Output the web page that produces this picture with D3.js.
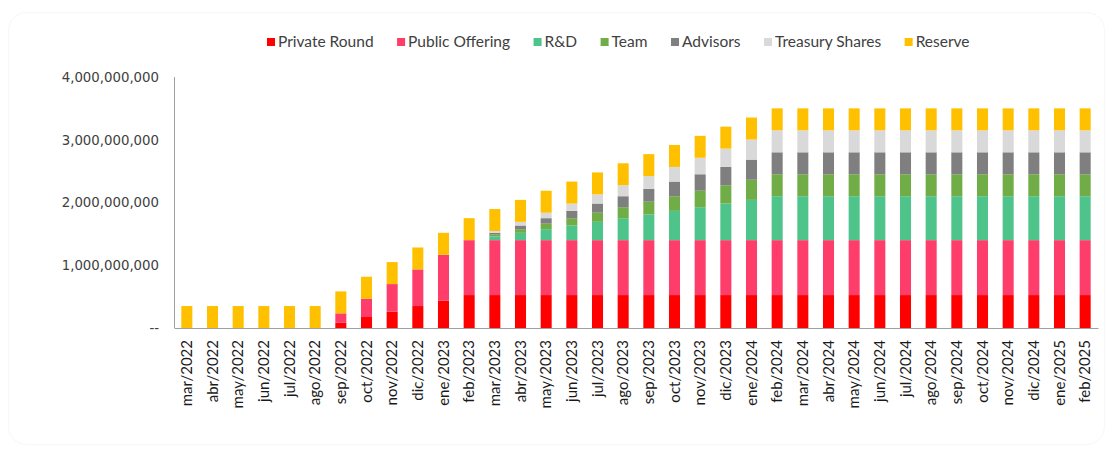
<!DOCTYPE html>
<html>
<head>
<meta charset="utf-8">
<script src="https://cdn.jsdelivr.net/npm/d3@7"></script>
<style>
  html, body { margin: 0; padding: 0; background: #fff; }
  svg { display: block; }
</style>
</head>
<body>
<svg id="chart" width="1113" height="453"></svg>
<script>
// months shown on the x axis
const months = [
  "mar/2022", "abr/2022", "may/2022", "jun/2022", "jul/2022", "ago/2022",
  "sep/2022", "oct/2022", "nov/2022", "dic/2022", "ene/2023", "feb/2023",
  "mar/2023", "abr/2023", "may/2023", "jun/2023", "jul/2023", "ago/2023",
  "sep/2023", "oct/2023", "nov/2023", "dic/2023", "ene/2024", "feb/2024",
  "mar/2024", "abr/2024", "may/2024", "jun/2024", "jul/2024", "ago/2024",
  "sep/2024", "oct/2024", "nov/2024", "dic/2024", "ene/2025", "feb/2025"
];

// token amounts, in millions
const privateRound = [
  0, 0, 0, 0, 0, 0, 87.5, 175, 262.5, 350, 437.5, 525,
  525, 525, 525, 525, 525, 525, 525, 525, 525, 525, 525, 525,
  525, 525, 525, 525, 525, 525, 525, 525, 525, 525, 525, 525
];
const publicOffering = [
  0, 0, 0, 0, 0, 0, 145.8, 291.7, 437.5, 583.3, 729.2, 875,
  875, 875, 875, 875, 875, 875, 875, 875, 875, 875, 875, 875,
  875, 875, 875, 875, 875, 875, 875, 875, 875, 875, 875, 875
];
const rnd = [
  0, 0, 0, 0, 0, 0, 0, 0, 0, 0, 0, 0,
  58.3, 116.7, 175, 233.3, 291.7, 350, 408.3, 466.7, 525, 583.3, 641.7, 700,
  700, 700, 700, 700, 700, 700, 700, 700, 700, 700, 700, 700
];
const team = [
  0, 0, 0, 0, 0, 0, 0, 0, 0, 0, 0, 0,
  29.2, 58.3, 87.5, 116.7, 145.8, 175, 204.2, 233.3, 262.5, 291.7, 320.8, 350,
  350, 350, 350, 350, 350, 350, 350, 350, 350, 350, 350, 350
];
const advisors = [
  0, 0, 0, 0, 0, 0, 0, 0, 0, 0, 0, 0,
  29.2, 58.3, 87.5, 116.7, 145.8, 175, 204.2, 233.3, 262.5, 291.7, 320.8, 350,
  350, 350, 350, 350, 350, 350, 350, 350, 350, 350, 350, 350
];
const treasuryShares = [
  0, 0, 0, 0, 0, 0, 0, 0, 0, 0, 0, 0,
  29.2, 58.3, 87.5, 116.7, 145.8, 175, 204.2, 233.3, 262.5, 291.7, 320.8, 350,
  350, 350, 350, 350, 350, 350, 350, 350, 350, 350, 350, 350
];
const reserve = [
  350, 350, 350, 350, 350, 350, 350, 350, 350, 350, 350, 350,
  350, 350, 350, 350, 350, 350, 350, 350, 350, 350, 350, 350,
  350, 350, 350, 350, 350, 350, 350, 350, 350, 350, 350, 350
];

const seriesNames = ["Private Round", "Public Offering", "R&D", "Team", "Advisors", "Treasury Shares", "Reserve"];
const seriesColors = ["#ff0000", "#ff3d6b", "#4fc48a", "#70ad47", "#7f7f7f", "#d9d9d9", "#ffc000"];
const yTicks = [0, 1000, 2000, 3000, 4000];
const yTickLabels = ["--", "1,000,000,000", "2,000,000,000", "3,000,000,000", "4,000,000,000"];

const seriesValues = [privateRound, publicOffering, rnd, team, advisors, treasuryShares, reserve];
const keys = seriesNames;
const rows = months.map((m, i) => {
  const row = { month: m };
  keys.forEach((k, j) => { row[k] = seriesValues[j][i]; });
  return row;
});

const svg = d3.select("#chart");
const margin = { top: 77, right: 15, bottom: 125, left: 174 };
const width = 1113, height = 453;

// very faint rounded frame
svg.append("rect")
  .attr("x", 8.5).attr("y", 12.5)
  .attr("width", 1096).attr("height", 432)
  .attr("rx", 18)
  .attr("fill", "none")
  .attr("stroke", "#f7f7f7");

const x = d3.scaleBand()
  .domain(months)
  .range([margin.left, width - margin.right])
  .paddingInner(0.57)
  .paddingOuter(0.285);

const y = d3.scaleLinear()
  .domain([0, 4000])
  .range([height - margin.bottom, margin.top]);

const stacked = d3.stack().keys(keys)(rows);

// bars
svg.append("g")
  .selectAll("g")
  .data(stacked)
  .join("g")
  .attr("fill", (d, i) => seriesColors[i])
  .selectAll("rect")
  .data(d => d)
  .join("rect")
  .attr("x", d => x(d.data.month))
  .attr("y", d => y(d[1]))
  .attr("width", x.bandwidth())
  .attr("height", d => y(d[0]) - y(d[1]));

// y axis
const yAxis = svg.append("g")
  .attr("transform", `translate(${margin.left},0)`)
  .call(d3.axisLeft(y)
    .tickValues(yTicks)
    .tickSize(0)
    .tickPadding(15)
    .tickFormat((d, i) => yTickLabels[i]));
yAxis.select(".domain").attr("stroke", "#a0a0a0").attr("d", `M0.5,${y(0)}V${y(4000)}`);
yAxis.selectAll("text")
  .attr("font-family", "DejaVu Sans, sans-serif")
  .attr("font-size", "13.3px")
  .attr("fill", "#404040");

// x axis
const xAxis = svg.append("g")
  .attr("transform", `translate(0,${y(0)})`)
  .call(d3.axisBottom(x).tickSize(0).tickPadding(0));
xAxis.select(".domain").attr("stroke", "#a0a0a0");
xAxis.selectAll("text")
  .attr("font-family", "Lato, sans-serif")
  .attr("font-size", "15px")
  .attr("fill", "#1a1a1a")
  .attr("text-anchor", "end")
  .attr("transform", "translate(0,12) rotate(-90)")
  .attr("x", 0)
  .attr("y", 0)
  .attr("dy", "0.35em");

// legend
const legend = svg.append("g").attr("transform", "translate(267,42)");
let lx = 0;
seriesNames.forEach((name, i) => {
  const item = legend.append("g").attr("transform", `translate(${lx},0)`);
  item.append("rect")
    .attr("x", 0).attr("y", -4)
    .attr("width", 8).attr("height", 8)
    .attr("fill", seriesColors[i]);
  const t = item.append("text")
    .attr("x", 11)
    .attr("dy", "0.35em")
    .attr("font-family", "Lato, sans-serif")
    .attr("font-size", "15.5px")
    .attr("fill", "#404040")
    .text(name);
  lx += 11 + t.node().getComputedTextLength() + 23.5;
});
</script>
</body>
</html>
